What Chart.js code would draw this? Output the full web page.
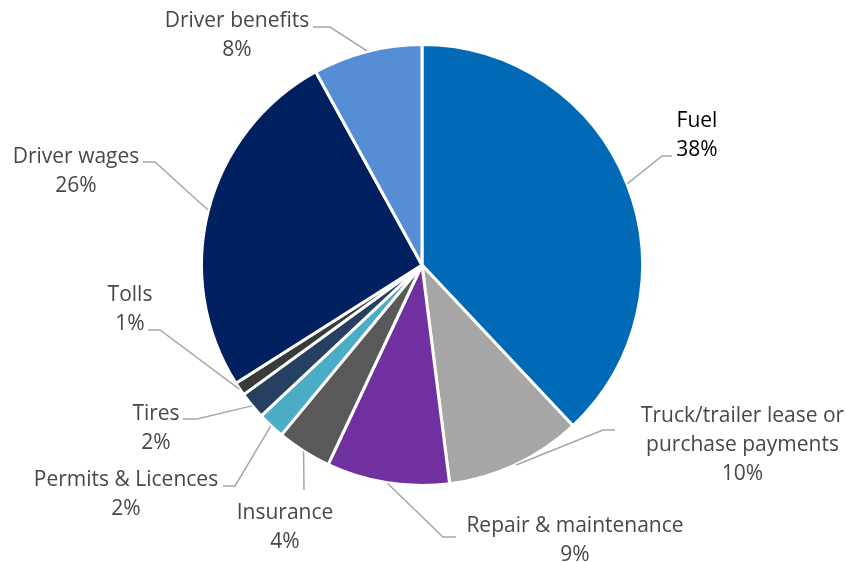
<!DOCTYPE html>
<html>
<head>
<meta charset="utf-8">
<script src="https://cdn.jsdelivr.net/npm/chart.js@4/dist/chart.umd.min.js"></script>
<style>
  html, body { margin: 0; padding: 0; background: #fff; }
</style>
</head>
<body>
<canvas id="costChart" width="846" height="562"></canvas>
<script>
const categories = [
  "Fuel",
  "Truck/trailer lease or purchase payments",
  "Repair & maintenance",
  "Insurance",
  "Permits & Licences",
  "Tires",
  "Tolls",
  "Driver wages",
  "Driver benefits"
];
const shares = [38, 10, 9, 4, 2, 2, 1, 26, 8];

const sliceColors = [
  "#016ab6", // fuel
  "#a6a6a6", // lease
  "#7030a0", // repair
  "#595959", // insurance
  "#4bacc6", // permits
  "#254061", // tires
  "#3a3a3a", // tolls
  "#002060", // wages
  "#558ed5"  // benefits
];

// how each category name wraps in its label
const labelNames = [
  ["Fuel"],
  ["Truck/trailer lease or", "purchase payments"],
  ["Repair & maintenance"],
  ["Insurance"],
  ["Permits & Licences"],
  ["Tires"],
  ["Tolls"],
  ["Driver wages"],
  ["Driver benefits"]
];

// leader elbow, leader end and first text line centre, as offsets from the pie centre
const labelLayout = [
  { elbow: [240, -109], end: [250, -109], text: [275, -144], color: "#000000" },
  { elbow: [181, 165], end: [193, 165], text: [320.5, 151] },
  { elbow: [21, 272], end: [34, 272], text: [153, 261] },
  { elbow: [-118, 225], end: [-118, 225], text: [-137, 248] },
  { elbow: [-187, 221], end: [-199, 221], text: [-296, 215] },
  { elbow: [-225, 154], end: [-239, 154], text: [-266, 149] },
  { elbow: [-262, 65], end: [-274, 65], text: [-292, 30] },
  { elbow: [-267, -103], end: [-279, -103], text: [-346, -108] },
  { elbow: [-92, -238], end: [-109, -238], text: [-185, -244] }
];

const LINE_GAP = 29;

const leaderLabels = {
  id: "leaderLabels",
  afterDatasetsDraw(chart) {
    const { ctx } = chart;
    const meta = chart.getDatasetMeta(0);
    const values = chart.data.datasets[0].data;
    const total = values.reduce((a, b) => a + b, 0);

    ctx.save();
    ctx.font = '21px "Open Sans", sans-serif';
    ctx.textAlign = "center";
    ctx.textBaseline = "middle";

    meta.data.forEach((arc, i) => {
      const lay = labelLayout[i];
      const { x, y, startAngle, endAngle, outerRadius } = arc.getProps(
        ["x", "y", "startAngle", "endAngle", "outerRadius"], true);
      const mid = (startAngle + endAngle) / 2;
      const r = outerRadius + 0.5;

      // leader line: arc edge -> elbow -> short horizontal run
      ctx.strokeStyle = "#a6a6a6";
      ctx.lineWidth = 1.5;
      ctx.beginPath();
      ctx.moveTo(x + Math.cos(mid) * r, y + Math.sin(mid) * r);
      ctx.lineTo(x + lay.elbow[0], y + lay.elbow[1]);
      ctx.lineTo(x + lay.end[0], y + lay.end[1]);
      ctx.stroke();

      const pct = Math.round(values[i] / total * 100) + "%";
      const lines = labelNames[i].concat([pct]);
      ctx.fillStyle = lay.color || "#474747";
      lines.forEach((t, k) => {
        ctx.fillText(t, x + lay.text[0], y + lay.text[1] + k * LINE_GAP);
      });
    });
    ctx.restore();
  }
};

new Chart(document.getElementById("costChart"), {
  type: "pie",
  data: {
    labels: categories,
    datasets: [{
      data: shares,
      backgroundColor: sliceColors,
      borderColor: "#ffffff",
      borderWidth: 3
    }]
  },
  options: {
    responsive: false,
    animation: false,
    layout: { padding: { top: 43, bottom: 75, left: 200, right: 202 } },
    plugins: {
      legend: { display: false },
      tooltip: { enabled: false }
    }
  },
  plugins: [leaderLabels]
});
</script>
</body>
</html>
